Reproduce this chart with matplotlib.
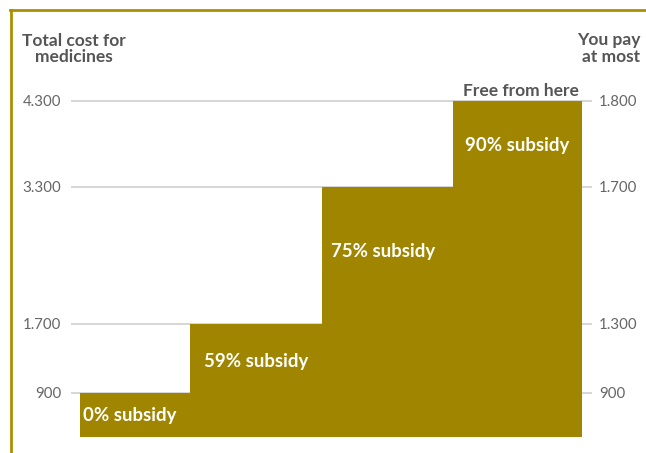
import matplotlib
matplotlib.use("Agg")
import matplotlib.pyplot as plt
from matplotlib.lines import Line2D

plt.rcParams['font.family'] = ['Lato', 'DejaVu Sans']

# ---- data ----
subsidy_labels = ["0% subsidy", "59% subsidy", "75% subsidy", "90% subsidy"]
total_cost = [900, 1700, 3300, 4300]          # step levels (left axis)
left_tick_values = [900, 1700, 3300, 4300]
left_tick_labels = ["900", "1.700", "3.300", "4.300"]
right_tick_labels = ["900", "1.300", "1.700", "1.800"]   # "You pay at most"
left_title = "Total cost for\nmedicines"
right_title = "You pay\nat most"
top_note = "Free from here"

# ---- layout (not data) ----
STEP_EDGES = [9, 119, 251, 382, 511]         # horizontal extents in axis units
LABEL_Y = [640, 1258, 2545, 3773]            # text vertical placement
LABEL_DX = [-5, 0, -4, 0]
BAR_COLOR = "#a08500"
BORDER_COLOR = "#a89000"
GRID_COLOR = "#cfcfcf"
TEXT_GRAY = "#555555"
TICK_GRAY = "#666666"

W, H = 646, 453
fig = plt.figure(figsize=(W / 100, H / 100), dpi=100)
fig.patch.set_facecolor("white")

ax_left_px, ax_right_px = 71, 592
ax_bottom_px, ax_top_px = 437, 95
ax = fig.add_axes([ax_left_px / W, (H - ax_bottom_px) / H,
                   (ax_right_px - ax_left_px) / W, (ax_bottom_px - ax_top_px) / H])
ax.set_xlim(0, ax_right_px - ax_left_px)
ax.set_ylim(384, 4366)

# gridlines
for v in left_tick_values:
    ax.axhline(v, color=GRID_COLOR, lw=1.2, zorder=1)

# step bars
for i, v in enumerate(total_cost):
    x0, x1 = STEP_EDGES[i], STEP_EDGES[i + 1]
    ax.bar(x0, v - 384, width=x1 - x0, bottom=384, align="edge",
           color=BAR_COLOR, linewidth=0, zorder=2)
    ax.text((x0 + x1) / 2 + LABEL_DX[i], LABEL_Y[i], subsidy_labels[i], color="white",
            fontsize=13.4, fontweight="bold", ha="center", va="center", zorder=3)

ax.text((STEP_EDGES[3] + STEP_EDGES[4]) / 2 + 3, total_cost[3] + 25, top_note,
        color=TEXT_GRAY, fontsize=12.5, fontweight="bold", ha="center",
        va="bottom", zorder=3)

for s in ax.spines.values():
    s.set_visible(False)
ax.set_xticks([])
ax.set_yticks(left_tick_values)
ax.set_yticklabels(left_tick_labels)
ax.tick_params(axis="y", length=0, pad=7, labelsize=10.8, labelcolor=TICK_GRAY)

axr = ax.twinx()
axr.set_ylim(ax.get_ylim())
axr.set_yticks(left_tick_values)
axr.set_yticklabels(right_tick_labels)
axr.tick_params(axis="y", length=0, pad=5, labelsize=10.8, labelcolor=TICK_GRAY)
for s in axr.spines.values():
    s.set_visible(False)

# titles
fig.text(74 / W, 1 - 49 / H, left_title, ha="center", va="center",
         fontsize=12.5, fontweight="bold", color=TEXT_GRAY, linespacing=1.0)
fig.text(640 / W, 1 - 48.5 / H, right_title, ha="right", va="center",
         fontsize=12.5, fontweight="bold", color=TEXT_GRAY, linespacing=1.0)

# border (top and left)
fig.add_artist(Line2D([10 / W, 1], [1 - 10 / H, 1 - 10 / H], color=BORDER_COLOR,
                      lw=2, transform=fig.transFigure))
fig.add_artist(Line2D([11 / W, 11 / W], [1 - 10 / H, 0], color=BORDER_COLOR,
                      lw=2, transform=fig.transFigure))

fig.savefig("out.png", dpi=100, facecolor="white")
